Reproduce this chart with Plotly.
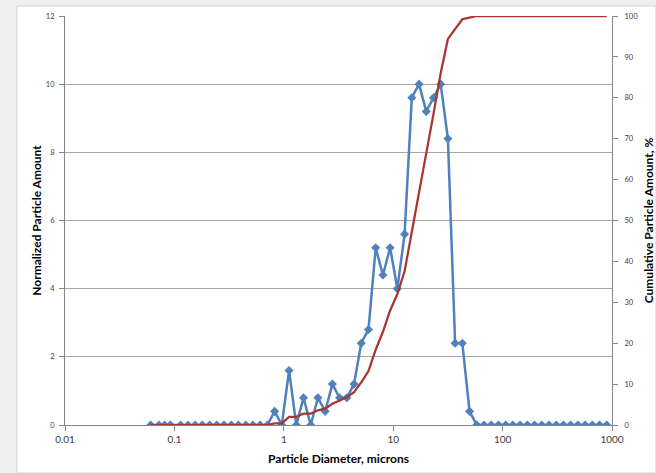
import plotly.graph_objects as go

# Particle diameter bins (microns)
diameter_um = [
    0.0607, 0.0723, 0.0815, 0.0918,
    0.114, 0.133, 0.155, 0.180, 0.210, 0.244, 0.284, 0.331, 0.385, 0.449,
    0.522, 0.608, 0.708, 0.824, 0.959, 1.117, 1.300, 1.514, 1.762, 2.051,
    2.388, 2.780, 3.236, 3.767, 4.385, 5.105, 5.943, 6.918, 8.054, 9.376,
    10.91, 12.71, 14.79, 17.22, 20.04, 23.33, 27.16, 31.62, 36.81, 42.85,
    49.89, 58.07, 67.61, 78.70, 91.62, 106.7, 124.2, 144.5, 168.3, 195.9,
    228.0, 265.5, 309.0, 359.7, 418.8, 487.5, 567.5, 660.7, 769.1, 895.4,
]

# Normalized particle amount (left axis)
normalized_amount = [
    0, 0, 0, 0,
    0, 0, 0, 0, 0, 0, 0, 0, 0, 0,
    0, 0, 0, 0.4, 0, 1.6, 0, 0.8, 0, 0.8,
    0.4, 1.2, 0.8, 0.8, 1.2, 2.4, 2.8, 5.2, 4.4, 5.2,
    4.0, 5.6, 9.6, 10.0, 9.2, 9.6, 10.0, 8.4, 2.4, 2.4,
    0.4, 0, 0, 0, 0, 0, 0, 0, 0, 0,
    0, 0, 0, 0, 0, 0, 0, 0, 0, 0,
]

# Cumulative particle amount, % (right axis)
cumulative_pct = [
    0, 0, 0, 0,
    0, 0, 0, 0, 0, 0, 0, 0, 0, 0,
    0, 0, 0, 0.4, 0.4, 2.0, 2.0, 2.8, 2.8, 3.6,
    4.0, 5.2, 6.0, 6.8, 8.0, 10.4, 13.2, 18.4, 22.8, 28.0,
    32.0, 37.6, 47.2, 57.2, 66.4, 76.0, 86.0, 94.4, 96.8, 99.2,
    99.6, 100, 100, 100, 100, 100, 100, 100, 100, 100,
    100, 100, 100, 100, 100, 100, 100, 100, 100, 100,
]

x_tickvals = [0.01, 0.1, 1, 10, 100, 1000]
x_ticktext = ["0.01", "0.1", "1", "10", "100", "1000"]
y_left_ticks = [0, 2, 4, 6, 8, 10, 12]
y_right_ticks = [0, 10, 20, 30, 40, 50, 60, 70, 80, 90, 100]

FONT = "Lato, 'Open Sans', sans-serif"
AXIS_GRAY = "#868686"
GRID_GRAY = "#a6a6a6"
TICK_COLOR = "#404040"

fig = go.Figure()

fig.add_trace(go.Scatter(
    x=diameter_um, y=normalized_amount, mode="lines+markers",
    line=dict(color="#4F81BD", width=2.5),
    marker=dict(symbol="diamond", size=7, color="#4F81BD"),
    yaxis="y", showlegend=False,
))

fig.add_trace(go.Scatter(
    x=diameter_um, y=cumulative_pct, mode="lines",
    line=dict(color="#A93431", width=2.25),
    yaxis="y2", showlegend=False,
))

fig.update_layout(
    width=656, height=473,
    margin=dict(l=65, r=44, t=16, b=48, autoexpand=False),
    paper_bgcolor="#f0f0f0",
    plot_bgcolor="white",
    font=dict(family=FONT, color=TICK_COLOR),
    xaxis=dict(
        type="log", range=[-2, 3], automargin=False,
        tickvals=x_tickvals, ticktext=x_ticktext,
        tickfont=dict(size=10, color=TICK_COLOR),
        ticks="outside", ticklen=5, tickcolor=AXIS_GRAY,
        showline=True, linecolor=AXIS_GRAY, linewidth=1,
        showgrid=False, zeroline=False,
        title=dict(text="<b>Particle Diameter, microns</b>",
                   font=dict(size=12, color="black", family=FONT), standoff=10),
    ),
    yaxis=dict(
        range=[0, 12], tickvals=y_left_ticks, automargin=False,
        tickfont=dict(size=7.5, color=TICK_COLOR),
        ticks="outside", ticklen=5, tickcolor=AXIS_GRAY,
        ticklabelstandoff=3,
        showline=True, linecolor=AXIS_GRAY, linewidth=1,
        showgrid=True, gridcolor=GRID_GRAY, gridwidth=1,
        zeroline=False,
        title=dict(text="<b>Normalized Particle Amount</b>",
                   font=dict(size=12, color="black", family=FONT), standoff=1),
    ),
    yaxis2=dict(
        range=[0, 100], tickvals=y_right_ticks, automargin=False,
        overlaying="y", side="right",
        tickfont=dict(size=7.5, color=TICK_COLOR),
        ticks="outside", ticklen=5, tickcolor=AXIS_GRAY,
        ticklabelstandoff=5,
        showline=True, linecolor=AXIS_GRAY, linewidth=1,
        showgrid=False, zeroline=False,
        title=dict(text="<b>Cumulative Particle Amount, %</b>",
                   font=dict(size=12, color="black", family=FONT), standoff=11),
    ),
    shapes=[dict(
        type="rect", xref="paper", yref="paper", layer="below",
        x0=-0.0878, x1=1.0804, y0=-0.1174, y1=1.0244,
        fillcolor="white", line=dict(color="#d4d4d4", width=1),
    )],
)

fig.write_html(
    "out.html",
    config={"displayModeBar": False},
    post_script="document.body.style.margin='0';document.body.style.overflow='hidden';",
)
